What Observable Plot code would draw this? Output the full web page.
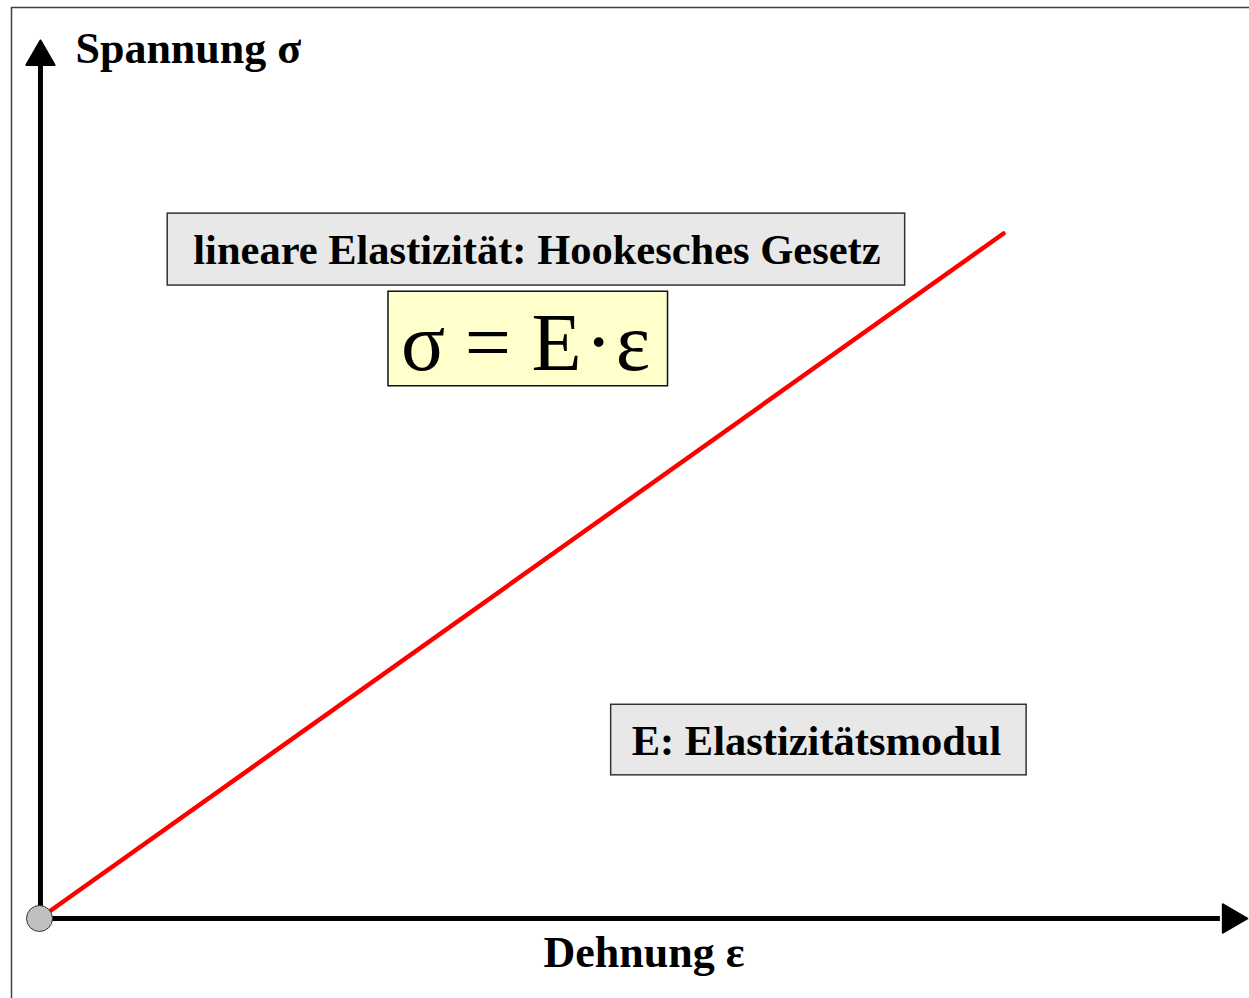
<!DOCTYPE html>
<html>
<head>
<meta charset="utf-8">
<script src="https://cdn.jsdelivr.net/npm/d3@7"></script>
<script src="https://cdn.jsdelivr.net/npm/@observablehq/plot@0.6"></script>
<style>
  html, body { margin: 0; padding: 0; background: #fff; overflow: hidden; }
  #chart svg { display: block; }
</style>
</head>
<body>
<div id="chart"></div>
<script>
// ---- data ----
const strain = [0, 1];          // Dehnung ε (relative units)
const stress = [0, 1];          // Spannung σ (relative units)
const yLabel = "Spannung σ";
const xLabel = "Dehnung ε";
const boxTitles = ["lineare Elastizität: Hookesches Gesetz", "E: Elastizitätsmodul"];
const formulaTokens = ["σ", "=", "E", "·", "ε"];

// ---- layout (data units) ----
const line = strain.map((e, i) => ({e, s: stress[i]}));
const infoBoxes = [
  {x1: 0.133, x2: 0.898, y1: 0.924, y2: 1.029, tx: 0.516, ty: 0.975, text: boxTitles[0]},
  {x1: 0.593, x2: 1.024, y1: 0.209, y2: 0.312, tx: 0.806, ty: 0.259, text: boxTitles[1]}
];
const formulaBox = [{x1: 0.362, x2: 0.652, y1: 0.777, y2: 0.915}];
const formulaX = [0.3978, 0.4652, 0.5363, 0.5800, 0.6157];
const formula = formulaTokens.map((t, i) => ({t, x: formulaX[i], y: 0.801}));
const labels = [
  {text: yLabel, x: 0.0373, y: 1.2482},
  {text: xLabel, x: 0.5228, y: -0.0715}
];

const serif = "'Liberation Serif', 'Times New Roman', serif";

const chart = Plot.plot({
  width: 1249,
  height: 998,
  margin: 0,
  style: {background: "white"},
  x: {domain: [0, 1], range: [39, 1003], axis: null},
  y: {domain: [0, 1], range: [918, 233], axis: null},
  marks: [
    Plot.frame({stroke: "#404040", strokeWidth: 1.5, insetLeft: 11, insetTop: 7, insetRight: -10, insetBottom: -10}),
    // axes shafts
    Plot.ruleX([0.001], {y1: 0, y2: 1.25, stroke: "black", strokeWidth: 5}),
    Plot.ruleY([0], {x1: 0, x2: 1.225, stroke: "black", strokeWidth: 5}),
    // arrow heads
    Plot.dot([{x: 0.001, y: 1.258}], {x: "x", y: "y", symbol: "triangle", r: 10.5, fill: "black", stroke: "black", strokeWidth: 2, strokeLinejoin: "round"}),
    Plot.dot([{x: 1.236, y: 0}], {x: "x", y: "y", symbol: "triangle", r: 10.5, rotate: 90, fill: "black", stroke: "black", strokeWidth: 2, strokeLinejoin: "round"}),
    // Hooke line
    Plot.line(line, {x: "e", y: "s", stroke: "#ff0000", strokeWidth: 4.5, strokeLinecap: "round"}),
    // origin point
    Plot.dot([line[0]], {x: "e", y: "s", r: 13, fill: "#c0c0c0", stroke: "#333", strokeWidth: 1}),
    // info boxes
    Plot.rect(infoBoxes, {x1: "x1", x2: "x2", y1: "y1", y2: "y2", fill: "#e8e8e8", stroke: "#333", strokeWidth: 1.5}),
    Plot.text(infoBoxes, {x: "tx", y: "ty", text: "text", fontFamily: serif, fontWeight: "bold", fontSize: 42.5, fill: "black"}),
    // formula box
    Plot.rect(formulaBox, {x1: "x1", x2: "x2", y1: "y1", y2: "y2", fill: "#ffffcc", stroke: "#111", strokeWidth: 1.5}),
    Plot.text(formula, {x: "x", y: "y", text: "t", lineAnchor: "bottom", fontFamily: serif, fontSize: 82, fill: "black"}),
    // axis labels
    Plot.text(labels, {x: "x", y: "y", text: "text", textAnchor: "start", lineAnchor: "bottom", fontFamily: serif, fontWeight: "bold", fontSize: 44, fill: "black"})
  ]
});
document.getElementById("chart").appendChild(chart);
</script>
</body>
</html>
